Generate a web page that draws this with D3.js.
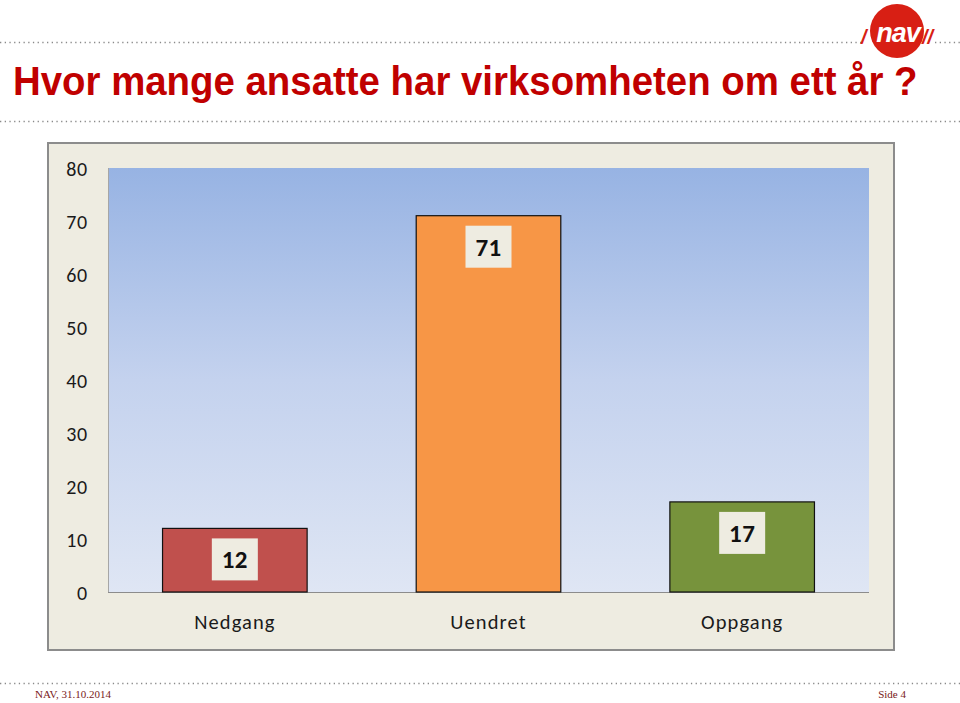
<!DOCTYPE html>
<html><head><meta charset="utf-8">
<script src="https://cdn.jsdelivr.net/npm/d3@7"></script>
<style>body{margin:0;background:#fff;}svg{display:block;}</style>
</head><body>
<svg id="c" width="960" height="703"></svg>
<script>
const categories = ["Nedgang", "Uendret", "Oppgang"];
const values = [12, 71, 17];
const barColors = ["#C0504D", "#F79646", "#77933C"];
const yTicks = [0, 10, 20, 30, 40, 50, 60, 70, 80];
const title = "Hvor mange ansatte har virksomheten om ett år ?";
const footerLeft = "NAV, 31.10.2014";
const footerRight = "Side 4";

const svg = d3.select("#c");
const defs = svg.append("defs");
const grad = defs.append("linearGradient").attr("id","pg").attr("x1",0).attr("y1",0).attr("x2",0).attr("y2",1);
grad.append("stop").attr("offset","0%").attr("stop-color","#97B3E3");
grad.append("stop").attr("offset","50%").attr("stop-color","#C4D2EE");
grad.append("stop").attr("offset","100%").attr("stop-color","#DFE6F4");

// dotted lines
function dots(y, x1, x2){
  svg.append("line").attr("x1",x1).attr("x2",x2).attr("y1",y).attr("y2",y)
    .attr("stroke","#8a8a8a").attr("stroke-width",1.3).attr("stroke-dasharray","1.3 3.4");
}
dots(42.5, 0, 862);
dots(42.5, 935, 960);
dots(121.5, 0, 960);
dots(683.5, 0, 960);

// logo
const logo = svg.append("g");
logo.append("circle").attr("cx",897).attr("cy",31).attr("r",27).attr("fill","#D81F14");
logo.append("text").attr("x",898).attr("y",42).attr("text-anchor","middle")
  .attr("font-family","Liberation Sans, Arial, sans-serif").attr("font-weight","bold").attr("font-style","italic")
  .attr("font-size",27).attr("fill","#fff").attr("letter-spacing","-1").text("nav");
logo.append("text").attr("x",861).attr("y",44).attr("font-family","Liberation Sans, Arial, sans-serif")
  .attr("font-weight","bold").attr("font-style","italic").attr("font-size",20).attr("fill","#D81F14").text("/");
logo.append("text").attr("x",922).attr("y",44).attr("font-family","Liberation Sans, Arial, sans-serif")
  .attr("font-weight","bold").attr("font-style","italic").attr("font-size",20).attr("fill","#D81F14").text("//");

// title
svg.append("text").attr("transform","translate(13,95) scale(1,1.08)")
  .attr("font-family","Liberation Sans, Arial, sans-serif").attr("font-weight","bold")
  .attr("font-size",38.4).attr("fill","#C00000").text(title);

// chart frame
svg.append("rect").attr("x",48).attr("y",143).attr("width",846).attr("height",507)
  .attr("fill","#EEECE1").attr("stroke","#8C8C8C").attr("stroke-width",2);

const m = {l:108, r:869, t:168, b:592};
const x = d3.scaleBand().domain(categories).range([m.l, m.r]).paddingInner(0.43).paddingOuter(0.215);
const y = d3.scaleLinear().domain([0,80]).range([m.b, m.t]);

svg.append("rect").attr("x",m.l).attr("y",m.t).attr("width",m.r-m.l).attr("height",m.b-m.t)
  .attr("fill","url(#pg)");
svg.append("line").attr("x1",m.l+0.5).attr("x2",m.l+0.5).attr("y1",m.t).attr("y2",m.b)
  .attr("stroke","#A6A6A6").attr("stroke-width",1);

const fontC = "Carlito, Lato, 'Open Sans', sans-serif";
const yAxis = d3.axisLeft(y).tickValues(yTicks).tickSize(0).tickPadding(20);
const ya = svg.append("g").attr("transform",`translate(${m.l},0)`).call(yAxis);
ya.select(".domain").remove();
ya.selectAll("text").attr("font-family",fontC).attr("font-size",20).attr("letter-spacing","0.8")
  .attr("fill","#1a1a1a").attr("dy","0.36em");

const xAxis = d3.axisBottom(x).tickSize(0).tickPadding(22);
const xa = svg.append("g").attr("transform",`translate(0,${m.b})`).call(xAxis);
xa.select(".domain").attr("stroke","#8C8C8C").attr("d",`M${m.l},0.5H${m.r}`);
xa.selectAll("text").attr("font-family",fontC).attr("font-size",20.5).attr("letter-spacing","1.1")
  .attr("fill","#1a1a1a");

const bars = svg.append("g");
bars.selectAll("rect").data(values).join("rect")
  .attr("x",(d,i)=>x(categories[i])).attr("width",x.bandwidth())
  .attr("y",d=>y(d)).attr("height",d=>y(0)-y(d))
  .attr("fill",(d,i)=>barColors[i]).attr("stroke","#111").attr("stroke-width",1.2);

const lab = svg.append("g");
values.forEach((d,i)=>{
  const cx = x(categories[i]) + x.bandwidth()/2;
  const cy = y(d) + 31;
  lab.append("rect").attr("x",cx-23).attr("y",cy-21).attr("width",46).attr("height",42).attr("fill","#EEECE1");
  lab.append("text").attr("x",cx).attr("y",cy+9).attr("text-anchor","middle")
    .attr("font-family",fontC).attr("font-weight","bold").attr("font-size",25).attr("letter-spacing","0.4")
    .attr("fill","#111").text(d);
});

// footer
svg.append("text").attr("x",35).attr("y",698).attr("font-family","Liberation Serif, 'Times New Roman', serif")
  .attr("font-size",11).attr("fill","#7A1A1A").text(footerLeft);
svg.append("text").attr("x",906).attr("y",698).attr("text-anchor","end").attr("font-family","Liberation Serif, 'Times New Roman', serif")
  .attr("font-size",11).attr("fill","#7A1A1A").text(footerRight);
</script>
</body></html>
